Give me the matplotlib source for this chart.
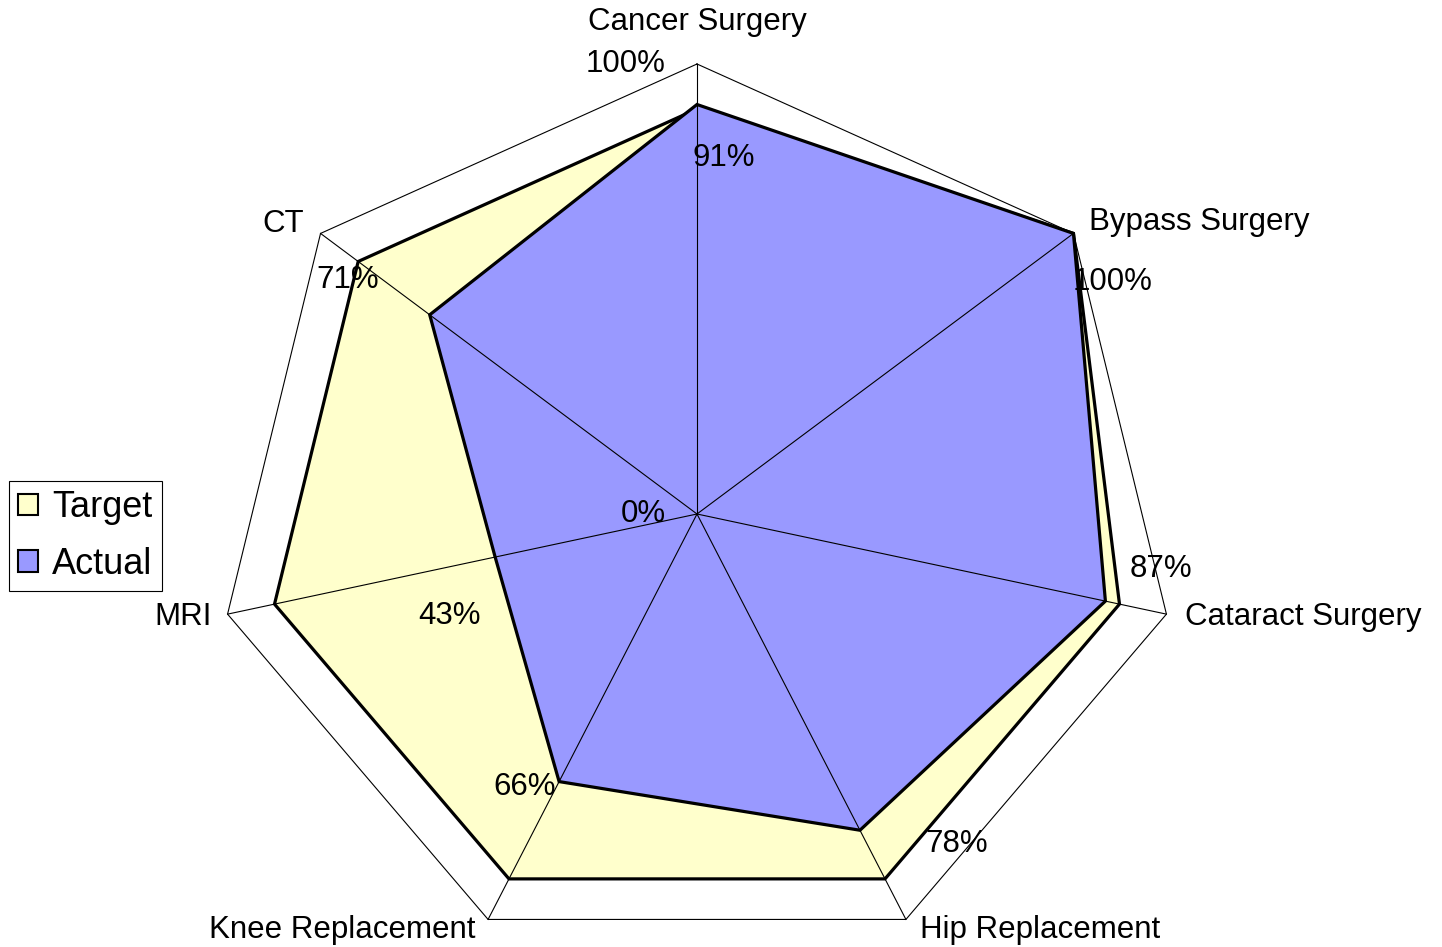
import numpy as np
import matplotlib
matplotlib.use("Agg")
import matplotlib.pyplot as plt
from matplotlib.patches import Patch

plt.rcParams['font.family'] = ['Liberation Sans', 'DejaVu Sans']

# ---- data ----
categories = ["Cancer Surgery", "Bypass Surgery", "Cataract Surgery",
              "Hip Replacement", "Knee Replacement", "MRI", "CT"]
target = [0.90, 1.00, 0.90, 0.90, 0.90, 0.90, 0.90]
actual = [0.91, 1.00, 0.87, 0.78, 0.66, 0.43, 0.71]
series_names = ["Target", "Actual"]
r_ticks = [0.0, 1.0]
r_tick_labels = ["0%", "100%"]

# ---- style ----
col_target = "#FFFFCC"
col_actual = "#9999FF"
# category label offsets (pixels) from outer vertex, alignment
cat_off = [(0, 34, "center"), (16, 3, "left"), (19, -11, "left"),
           (14, -19, "left"), (-13, -19, "right"), (-16, -11, "right"),
           (-17, 1, "right")]
# data label offsets (pixels, center x / baseline) from actual vertex
lab_off = [(27, -61), (39, -57), (56, 24), (97, -22), (-34, -13),
           (-46, -67), (-82, 27)]

n = len(categories)
theta = 2 * np.pi * np.arange(n) / n


def to_xy(vals):
    v = np.asarray(vals, dtype=float)
    return v * np.sin(theta), v * np.cos(theta)


fig = plt.figure(figsize=(14.42, 9.47), dpi=100)
ax = fig.add_axes([0, 0, 1, 1])
sx = 450 * 1.07
sy = 450.0
ax.set_xlim(-697 / sx, (1442 - 697) / sx)
ax.set_ylim(-(947 - 514) / sy, 514 / sy)
ax.axis("off")

# series
for vals, col, z in [(target, col_target, 2), (actual, col_actual, 3)]:
    xs, ys = to_xy(vals)
    ax.fill(xs, ys, facecolor=col, edgecolor="black", linewidth=2.3,
            joinstyle="miter", zorder=z)

# grid: spokes and outer polygon
ox, oy = to_xy([r_ticks[-1]] * n)
for i in range(n):
    ax.plot([0, ox[i]], [0, oy[i]], color="black", linewidth=0.8, zorder=4)
ax.plot(np.append(ox, ox[0]), np.append(oy, oy[0]), color="black",
        linewidth=0.8, zorder=4)

# radial tick labels
for r, t in zip(r_ticks, r_tick_labels):
    ax.annotate(t, xy=(0, r), xytext=(-31, -8), textcoords="offset pixels",
                ha="right", va="baseline", fontsize=22.5, zorder=6)

# category labels
for i, c in enumerate(categories):
    dx, dy, ha = cat_off[i]
    ax.annotate(c, xy=(ox[i], oy[i]), xytext=(dx, dy),
                textcoords="offset pixels", ha=ha, va="baseline",
                fontsize=22.5, zorder=6)

# data labels for Actual
axs, ays = to_xy(actual)
for i, v in enumerate(actual):
    dx, dy = lab_off[i]
    ax.annotate(f"{round(v * 100)}%", xy=(axs[i], ays[i]), xytext=(dx, dy),
                textcoords="offset pixels", ha="center", va="baseline",
                fontsize=22.5, zorder=6)

handles = [Patch(facecolor=col_target, edgecolor="black", linewidth=1.5),
           Patch(facecolor=col_actual, edgecolor="black", linewidth=1.5)]
leg = fig.legend(handles, series_names, loc="center left",
                 bbox_to_anchor=(9 / 1442, 1 - 536 / 947),
                 fontsize=26, frameon=True, fancybox=False, framealpha=1,
                 edgecolor="black", handlelength=0.55, handleheight=0.55,
                 handletextpad=0.4, borderpad=0.25, labelspacing=0.6,
                 borderaxespad=0)
leg.get_frame().set_linewidth(0.8)

fig.savefig("out.png", dpi=100)
